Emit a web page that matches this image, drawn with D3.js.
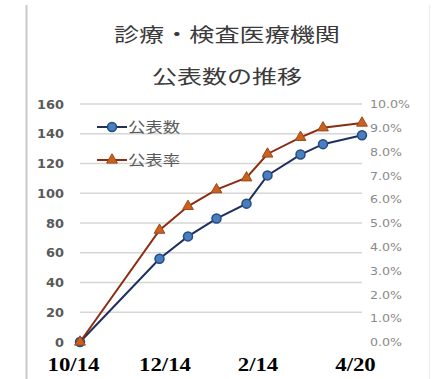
<!DOCTYPE html>
<html>
<head>
<meta charset="utf-8">
<script src="https://cdn.jsdelivr.net/npm/d3@7"></script>
<style>
  html, body { margin: 0; padding: 0; background: #fff; }
  svg { display: block; }
</style>
</head>
<body>
<svg id="chart" width="436" height="379"></svg>
<script>
// Publication dates (2020-10 to 2021-04)
const dates = ["2020-10-14", "2020-12-06", "2020-12-25", "2021-01-13", "2021-02-02",
               "2021-02-16", "2021-03-10", "2021-03-25", "2021-04-20"];
// Number of published clinics
const counts = [0, 56, 71, 83, 93, 112, 126, 133, 139];
// Publication rate (%)
const rates = [0, 4.7, 5.7, 6.4, 6.9, 7.9, 8.6, 9.0, 9.2];
// Axis ticks
const xTickDates = ["2020-10-14", "2020-12-14", "2021-02-14", "2021-04-20"];
const xTickLabels = ["10/14", "12/14", "2/14", "4/20"];
const leftTicks = [0, 20, 40, 60, 80, 100, 120, 140, 160];
const rightTicks = [0, 1, 2, 3, 4, 5, 6, 7, 8, 9, 10];
const titleLines = ["診療・検査医療機関", "公表数の推移"];
const seriesNames = ["公表数", "公表率"];

const parse = d3.timeParse("%Y-%m-%d");
const svg = d3.select("#chart");

const plot = { left: 80, right: 362, top: 104, bottom: 342 };

const x = d3.scaleTime()
  .domain([parse(dates[0]), parse(dates[dates.length - 1])])
  .range([plot.left, plot.right]);
const yL = d3.scaleLinear().domain([0, 160]).range([plot.bottom, plot.top]);
const yR = d3.scaleLinear().domain([0, 10]).range([plot.bottom, plot.top]);

// widen text horizontally by a factor
function stretch(sel, k) {
  sel.each(function () {
    const w = this.getComputedTextLength();
    d3.select(this).attr("textLength", w * k).attr("lengthAdjust", "spacingAndGlyphs");
  });
}

// chart frame
svg.append("line").attr("x1", 26.5).attr("x2", 26.5).attr("y1", 5).attr("y2", 379)
  .attr("stroke", "#c9c9c9").attr("stroke-width", 2);
svg.append("line").attr("x1", 429.5).attr("x2", 429.5).attr("y1", 5).attr("y2", 379)
  .attr("stroke", "#ececec").attr("stroke-width", 1);

// title
svg.append("g").selectAll("text").data(titleLines).join("text")
  .attr("x", 227).attr("y", (d, i) => 42 + i * 42)
  .attr("text-anchor", "middle")
  .attr("font-family", "'Noto Sans CJK JP', sans-serif")
  .attr("font-size", 19).attr("fill", "#3a3a3a")
  .text(d => d)
  .each(function (d, i) {
    d3.select(this).attr("textLength", i === 0 ? 226 : 150).attr("lengthAdjust", "spacingAndGlyphs");
  });

// gridlines
svg.append("g").selectAll("line").data(leftTicks.slice(1)).join("line")
  .attr("x1", plot.left).attr("x2", plot.right)
  .attr("y1", d => yL(d)).attr("y2", d => yL(d))
  .attr("stroke", "#d6d6d6").attr("stroke-width", 1.6);

// left axis
const leftAxis = svg.append("g")
  .attr("transform", `translate(${plot.left - 16},0)`)
  .call(d3.axisLeft(yL).tickValues(leftTicks).tickSize(0).tickPadding(0));
leftAxis.select(".domain").remove();
leftAxis.selectAll("text")
  .attr("font-family", "'DejaVu Sans', sans-serif").attr("font-size", 11.5)
  .attr("font-weight", "bold").attr("fill", "#5a5a5a").attr("dy", "0.36em")
  .call(stretch, 1.12);

// right axis
const rightAxis = svg.append("g")
  .attr("transform", `translate(${plot.right + 8},0)`)
  .call(d3.axisRight(yR).tickValues(rightTicks).tickSize(0).tickPadding(0)
    .tickFormat(d => d.toFixed(1) + "%"));
rightAxis.select(".domain").remove();
rightAxis.selectAll("text")
  .attr("font-family", "'DejaVu Sans', sans-serif").attr("font-size", 10.5)
  .attr("fill", "#8a8a8a").attr("dy", "0.36em")
  .call(stretch, 1.2);

// bottom axis labels
const bottomAxis = svg.append("g")
  .attr("transform", `translate(-7,${plot.bottom + 25})`)
  .call(d3.axisBottom(x).tickValues(xTickDates.map(parse)).tickSize(0).tickPadding(0)
    .tickFormat((d, i) => xTickLabels[i]));
bottomAxis.select(".domain").remove();
bottomAxis.selectAll("text")
  .attr("font-family", "'Liberation Serif', 'Times New Roman', serif")
  .attr("font-size", 19).attr("font-weight", "bold").attr("fill", "#000")
  .attr("dy", "0.2em")
  .call(stretch, 1.2);

const pts = dates.map((d, i) => ({ date: parse(d), count: counts[i], rate: rates[i] }));

const blueLine = "#1f2f5e", blueFill = "#4a7ebf";
const redLine = "#8a2d12", redFill = "#c8621c";

// count series
svg.append("path").datum(pts)
  .attr("fill", "none").attr("stroke", blueLine).attr("stroke-width", 2)
  .attr("d", d3.line().x(d => x(d.date)).y(d => yL(d.count)));
svg.append("g").selectAll("circle").data(pts).join("circle")
  .attr("cx", d => x(d.date)).attr("cy", d => yL(d.count)).attr("r", 4.5)
  .attr("fill", blueFill).attr("stroke", "#234a82").attr("stroke-width", 1.5);

// rate series
const tri = d3.symbol().type(d3.symbolTriangle).size(50);
svg.append("path").datum(pts)
  .attr("fill", "none").attr("stroke", redLine).attr("stroke-width", 2)
  .attr("d", d3.line().x(d => x(d.date)).y(d => yR(d.rate)));
svg.append("g").selectAll("path").data(pts).join("path")
  .attr("d", tri)
  .attr("transform", d => `translate(${x(d.date)},${yR(d.rate)})`)
  .attr("fill", redFill).attr("stroke", "#a0441a").attr("stroke-width", 1);

// legend
const legend = svg.append("g").selectAll("g").data(seriesNames).join("g")
  .attr("transform", (d, i) => `translate(97,${127 + i * 33})`);
legend.append("line").attr("x1", 0).attr("x2", 30).attr("y1", 0).attr("y2", 0)
  .attr("stroke", (d, i) => i === 0 ? blueLine : redLine).attr("stroke-width", 2);
legend.each(function (d, i) {
  const g = d3.select(this);
  if (i === 0) {
    g.append("circle").attr("cx", 15).attr("cy", 0).attr("r", 4.5)
      .attr("fill", blueFill).attr("stroke", "#234a82").attr("stroke-width", 1.5);
  } else {
    g.append("path").attr("d", tri).attr("transform", "translate(15,0)")
      .attr("fill", redFill).attr("stroke", "#a0441a").attr("stroke-width", 1);
  }
});
legend.append("text").attr("x", 31).attr("y", 0).attr("dy", "0.36em")
  .attr("font-family", "'Noto Sans CJK JP', sans-serif").attr("font-size", 14)
  .attr("fill", "#5a5a5a").text(d => d)
  .attr("textLength", 52).attr("lengthAdjust", "spacingAndGlyphs");
</script>
</body>
</html>
